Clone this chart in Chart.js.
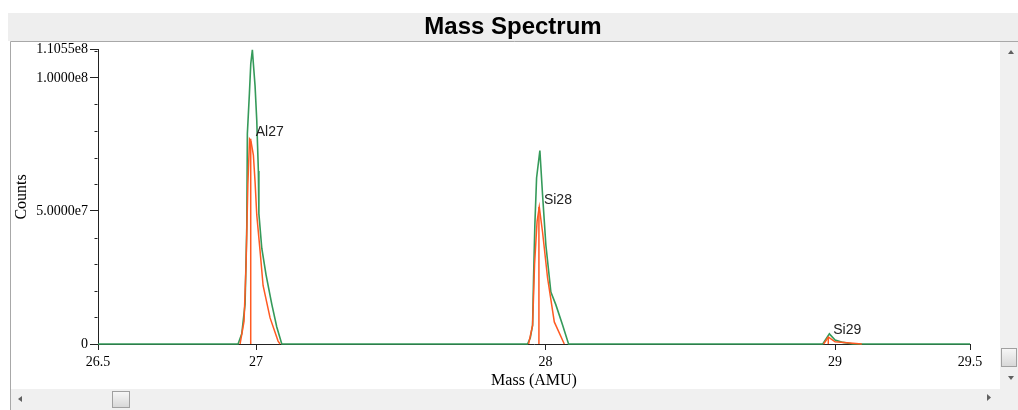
<!DOCTYPE html>
<html>
<head>
<meta charset="utf-8">
<script src="https://cdn.jsdelivr.net/npm/chart.js@4"></script>
<style>
  html, body { margin: 0; padding: 0; background: #ffffff; }
  #c { display: block; }
</style>
</head>
<body>
<canvas id="c" width="1018" height="410"></canvas>
<script>
// ---------------- data ----------------
const chartTitle = 'Mass Spectrum';
const xAxisTitle = 'Mass (AMU)';
const yAxisTitle = 'Counts';

const xMin = 26.454;
const xMax = 29.466;
const xTickValues = [xMin, 27, 28, 29, xMax];
const xTickLabels = ['26.5', '27', '28', '29', '29.5'];

const yMax = 1.1055e8;
const yTickValues = [0, 5e7, 1e8, 1.1055e8];
const yTickLabels = ['0', '5.0000e7', '1.0000e8', '1.1055e8'];
const yMinorStep = 1e7;

// green trace (mass, counts)
const greenMass = [xMin,
  26.9378, 26.9506, 26.9620, 26.9679, 26.9699, 26.9769, 26.9817, 26.9872, 26.9907, 26.9965,
  27.0024, 27.0079, 27.0097, 27.0197, 27.0345, 27.0542, 27.0715, 27.0888,
  27.9378, 27.9472, 27.9551, 27.9585, 27.9630, 27.9689, 27.9803, 27.9896, 28.0010, 28.0183,
  28.0356, 28.0587, 28.0794,
  28.9575, 28.9803, 29.0000, 29.0276, 29.0622,
  xMax];
const greenCounts = [0,
  0, 3.8e6, 1.50e7, 4.40e7, 7.9e7, 9.4e7, 1.053e8, 1.1055e8, 1.053e8, 9.7e7,
  8.4e7, 6.5e7, 4.9e7, 3.6e7, 2.6e7, 1.5e7, 6.4e6, 0,
  0, 2.3e6, 7.1e6, 2.48e7, 4.48e7, 6.24e7, 7.27e7, 5.6e7, 3.72e7, 1.95e7,
  1.47e7, 7.1e6, 0,
  0, 3.8e6, 1.5e6, 6e5, 0,
  0];

// orange trace, one segment per peak
const orangeMass1 = [26.9447, 26.9585, 26.9655, 26.9717, 26.9775, 26.9827, 26.9907, 26.9965, 27.0024, 27.0138, 27.0242, 27.0484, 27.0760, 27.0829];
const orangeCounts1 = [0, 8.6e6, 3.0e7, 6.0e7, 7.7e7, 7.6e7, 7.1e7, 6.1e7, 4.85e7, 3.5e7, 2.2e7, 9.8e6, 1.1e6, 0];
const orangeMass2 = [27.9413, 27.9551, 27.9620, 27.9706, 27.9782, 27.9896, 28.0069, 28.0301, 28.0646];
const orangeCounts2 = [0, 7e6, 3.0e7, 4.6e7, 5.15e7, 4.2e7, 2.48e7, 8.3e6, 0];
const orangeMass3 = [28.9603, 28.9769, 29.0000, 29.0922];
const orangeCounts3 = [0, 2.6e6, 8e5, 0];

// peak sticks + labels
const peakNames = ['Al27', 'Si28', 'Si29'];
const peakMass = [26.9815, 27.977, 28.9765];
const peakCounts = [7.71e7, 5.15e7, 2.6e6];

// ---------------- build datasets ----------------
const greenColor = '#359a5a';
const orangeColor = '#ff5a22';

const zip = (xs, ys) => xs.map((x, i) => ({ x, y: ys[i] }));
const gap = { x: NaN, y: null };

const greenData = zip(greenMass, greenCounts);
const orangeData = [].concat(zip(orangeMass1, orangeCounts1), [gap],
                             zip(orangeMass2, orangeCounts2), [gap],
                             zip(orangeMass3, orangeCounts3));
const stickData = [];
peakMass.forEach((m, i) => {
  if (i > 0) stickData.push(gap);
  stickData.push({ x: m, y: 0 }, { x: m, y: peakCounts[i] });
});

// ---------------- plugins ----------------
const frame = {
  id: 'frame',
  beforeDraw(chart) {
    const ctx = chart.ctx;
    ctx.save();
    ctx.fillStyle = '#ffffff';
    ctx.fillRect(0, 0, 1018, 410);
    // title band
    ctx.fillStyle = '#eeeeee';
    ctx.fillRect(8, 13, 1010, 28);
    // scrollbars
    ctx.fillStyle = '#f0f0f0';
    ctx.fillRect(1000, 41, 18, 369);
    ctx.fillRect(10, 389, 1008, 21);
    // plot box border
    ctx.strokeStyle = '#a8a8a8';
    ctx.lineWidth = 1;
    ctx.beginPath();
    ctx.moveTo(10.5, 410); ctx.lineTo(10.5, 41.5); ctx.lineTo(1018, 41.5);
    ctx.stroke();
    // arrows
    ctx.fillStyle = '#606060';
    const tri = (pts) => { ctx.beginPath(); ctx.moveTo(pts[0], pts[1]); ctx.lineTo(pts[2], pts[3]); ctx.lineTo(pts[4], pts[5]); ctx.closePath(); ctx.fill(); };
    tri([1008, 54, 1014, 54, 1011, 50]);
    tri([1008, 376, 1014, 376, 1011, 380]);
    tri([22, 396, 22, 402, 18, 399]);
    tri([987, 394, 987, 401, 991, 397.5]);
    // thumbs
    const thumb = (x, y, w, h) => {
      const g = ctx.createLinearGradient(x, y, x, y + h);
      g.addColorStop(0, '#f8f8f8'); g.addColorStop(1, '#d6d6d6');
      ctx.fillStyle = g; ctx.fillRect(x, y, w, h);
      ctx.strokeStyle = '#a0a0a0'; ctx.strokeRect(x + 0.5, y + 0.5, w - 1, h - 1);
    };
    thumb(1001, 348, 16, 19);
    thumb(112, 391, 18, 17);
    ctx.restore();
  },
  afterDraw(chart) {
    const ctx = chart.ctx;
    const xs = chart.scales.x, ys = chart.scales.y;
    ctx.save();
    // minor y ticks
    ctx.strokeStyle = '#222';
    ctx.lineWidth = 1;
    const ax = Math.round(xs.left) - 0.5;
    for (let v = yMinorStep; v < yMax; v += yMinorStep) {
      if (yTickValues.some(t => Math.abs(t - v) < 1)) continue;
      const py = Math.round(ys.getPixelForValue(v)) + 0.5;
      ctx.beginPath(); ctx.moveTo(ax - 3, py); ctx.lineTo(ax, py); ctx.stroke();
    }
    // peak labels
    ctx.font = '14px "Liberation Sans", Arial, sans-serif';
    ctx.fillStyle = '#222';
    ctx.textBaseline = 'alphabetic';
    ctx.textAlign = 'left';
    peakNames.forEach((n, i) => {
      const px = xs.getPixelForValue(peakMass[i]) + 5;
      const py = ys.getPixelForValue(peakCounts[i]) - 3;
      ctx.fillText(n, px, py);
    });
    ctx.restore();
  }
};

// ---------------- chart ----------------
const serif = '"Liberation Serif", "Times New Roman", serif';
new Chart(document.getElementById('c'), {
  type: 'scatter',
  data: {
    datasets: [
      { label: 'stick', data: stickData, showLine: true, borderColor: orangeColor, borderWidth: 1.5, pointRadius: 0, spanGaps: false, clip: false, order: 0 },
      { label: 'orange', data: orangeData, showLine: true, borderColor: orangeColor, borderWidth: 1.5, pointRadius: 0, spanGaps: false, clip: false, order: 1 },
      { label: 'green', data: greenData, showLine: true, borderColor: greenColor, borderWidth: 1.6, pointRadius: 0, clip: false, order: 2 }
    ]
  },
  options: {
    responsive: false,
    animation: false,
    devicePixelRatio: 1,
    layout: { padding: { left: 8, right: 0, top: 0, bottom: 20 } },
    plugins: {
      legend: { display: false },
      tooltip: { enabled: false },
      title: {
        display: true, text: chartTitle, color: '#000',
        font: { family: '"Liberation Sans", Arial, sans-serif', size: 24, weight: 'bold' },
        padding: { top: 13, bottom: 8 }
      }
    },
    scales: {
      x: {
        type: 'linear', min: xMin, max: xMax,
        afterBuildTicks: (axis) => { axis.ticks = xTickValues.map(v => ({ value: v })); },
        afterFit: (axis) => { axis.height = 46; },
        ticks: {
          callback: (v, i) => xTickLabels[i],
          color: '#000', font: { family: serif, size: 14 }, padding: 4,
          maxRotation: 0, autoSkip: false
        },
        grid: { drawOnChartArea: false, drawTicks: true, tickLength: 6, color: '#222' },
        border: { display: true, color: '#222', width: 1 },
        title: { display: true, text: xAxisTitle, color: '#000', font: { family: serif, size: 16 }, padding: { top: 0, bottom: 0 } }
      },
      y: {
        type: 'linear', min: 0, max: yMax,
        afterBuildTicks: (axis) => { axis.ticks = yTickValues.map(v => ({ value: v })); },
        afterFit: (axis) => { axis.width = 90; },
        ticks: {
          callback: (v, i) => yTickLabels[i],
          color: '#000', font: { family: serif, size: 14 }, padding: 2, autoSkip: false
        },
        grid: { drawOnChartArea: false, drawTicks: true, tickLength: 8, color: '#222' },
        border: { display: true, color: '#222', width: 1 },
        title: { display: true, text: yAxisTitle, color: '#000', font: { family: serif, size: 16 }, padding: { top: 4, bottom: 5 } }
      },
      yRight: {
        type: 'linear', position: 'right', display: true,
        afterFit: (axis) => { axis.width = 48; },
        ticks: { display: false },
        grid: { display: false, drawTicks: false },
        border: { display: false }
      }
    }
  },
  plugins: [frame]
});
</script>
</body>
</html>
